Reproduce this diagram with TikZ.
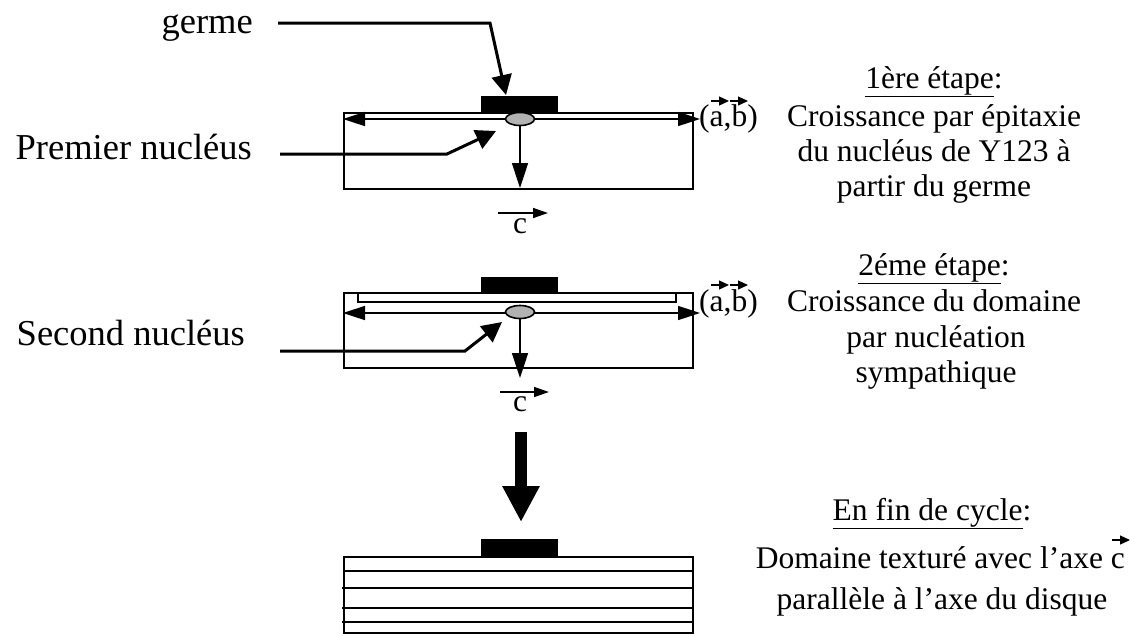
\documentclass[tikz,border=0pt]{standalone}
\usepackage{fontspec}
\setmainfont{Liberation Serif}
\usetikzlibrary{arrows.meta,shapes.geometric,calc}
\begin{document}
\begin{tikzpicture}[x=1pt,y=-1pt,
  box/.style={draw,line width=2pt},
  lead/.style={line width=3pt,line join=miter,-{Triangle[length=20pt,width=20pt]}},
  abaxis/.style={line width=1.6pt,{Triangle[length=22pt,width=14pt]}-{Triangle[length=22pt,width=14pt]}},
  caxis/.style={line width=1.6pt,-{Triangle[length=25pt,width=16pt]}},
  vecar/.style={line width=1.5pt,-{Triangle[length=15pt,width=10pt]}},
  smallvec/.style={line width=1.2pt,-{Triangle[length=10pt,width=9pt]}},
  nuc/.style={ellipse,draw,line width=1.6pt,fill=black!30,minimum width=29pt,minimum height=13pt,inner sep=0pt},
  bigl/.style={font=\fontsize{36.5}{40}\selectfont,inner sep=0pt},
  rt/.style={font=\fontsize{31.5}{35}\selectfont,inner sep=0pt,anchor=base}
]
\useasboundingbox (0,0) rectangle (1135,635);

% ---------- stage 1 ----------
\draw[box] (344,113) rectangle (693,189);
\fill (481,96) rectangle (558,113);
\draw[abaxis] (343,119) -- (700,119);
\node[nuc] (n1) at (520,119) {};
\coordinate (c1end) at (520,188);
\draw[caxis] (n1.south) -- (c1end);

% ---------- stage 2 ----------
\draw[box] (344,293) rectangle (693,368);
\draw[box] (358,293) rectangle (676,302);
\fill (481,277) rectangle (558,293);
\draw[abaxis] (343,313) -- (700,313);
\node[nuc] (n2) at (520,312) {};
\coordinate (c2end) at (520,378);
\draw[caxis] (n2.south) -- (c2end);

% ---------- big arrow ----------
\coordinate (bigA) at (521,432);
\coordinate (bigB) at (521,522);
\draw[line width=12pt,-{Triangle[length=36pt,width=35pt]}] (bigA) -- (bigB);

% ---------- final stack ----------
\fill (481,539) rectangle (558,557);
\draw[box] (344,557) rectangle (693,633);
\draw[line width=2pt] (344,571) -- (693,571);
\foreach \yy in {588,608,622} \draw[line width=2pt] (342,\yy) -- (693,\yy);

% ---------- c vectors ----------
\node[rt] (cv1) at (520,233) {c};
\coordinate (cv1a) at (498,213);
\coordinate (cv1b) at (548,213);
\draw[vecar] (cv1a) -- (cv1b);
\node[rt] (cv2) at (520,411) {c};
\coordinate (cv2a) at (500,392);
\coordinate (cv2b) at (549,392);
\draw[vecar] (cv2a) -- (cv2b);

% ---------- left labels and leaders ----------
\node[bigl,anchor=base east] (germe) at (253,33) {germe};
\coordinate (g1) at (278,23);
\coordinate (g2) at (490,23);
\coordinate (g3) at (506,95);
\draw[lead] (g1) -- (g2) -- (g3);

\node[bigl,anchor=base east] (pn) at (252,159) {Premier nucléus};
\coordinate (p1) at (280,154);
\coordinate (p2) at (447,154);
\coordinate (p3) at (496,131);
\draw[lead] (p1) -- (p2) -- (p3);

\node[bigl,anchor=base east] (sn) at (245,345) {Second nucléus};
\coordinate (q1) at (280,351);
\coordinate (q2) at (465,351);
\coordinate (q3) at (502,322);
\draw[lead] (q1) -- (q2) -- (q3);

% ---------- (a,b) labels ----------
\node[rt,anchor=base west] (ab1) at (699,126) {(a,b)};
\draw[smallvec] (711,101) -- (729,101);
\draw[smallvec] (730,101) -- (748,101);
\node[rt,anchor=base west] (ab2) at (699,311) {(a,b)};
\draw[smallvec] (711,285) -- (729,285);
\draw[smallvec] (730,285) -- (748,285);

% ---------- right text ----------
\node[rt] (t11) at (934,88) {\underline{1ère étape}:};
\node[rt] (t12) at (934,126) {Croissance par épitaxie};
\node[rt] (t13) at (934,161) {du nucléus de Y123 à};
\node[rt] (t14) at (934,196) {partir du germe};

\node[rt] (t21) at (934,275) {\underline{2éme étape}:};
\node[rt] (t22) at (934,311) {Croissance du domaine};
\node[rt] (t23) at (936,347) {par nucléation};
\node[rt] (t24) at (936,382) {sympathique};

\node[rt] (t31) at (932,520) {\underline{En fin de cycle}:};
\node[rt,anchor=base east] (t32) at (1125,568) {Domaine texturé avec l’axe c};
\draw[smallvec] (1112,540) -- (1130,540);
\node[rt] (t33) at (942,609) {parallèle à l’axe du disque};
\end{tikzpicture}
\end{document}
